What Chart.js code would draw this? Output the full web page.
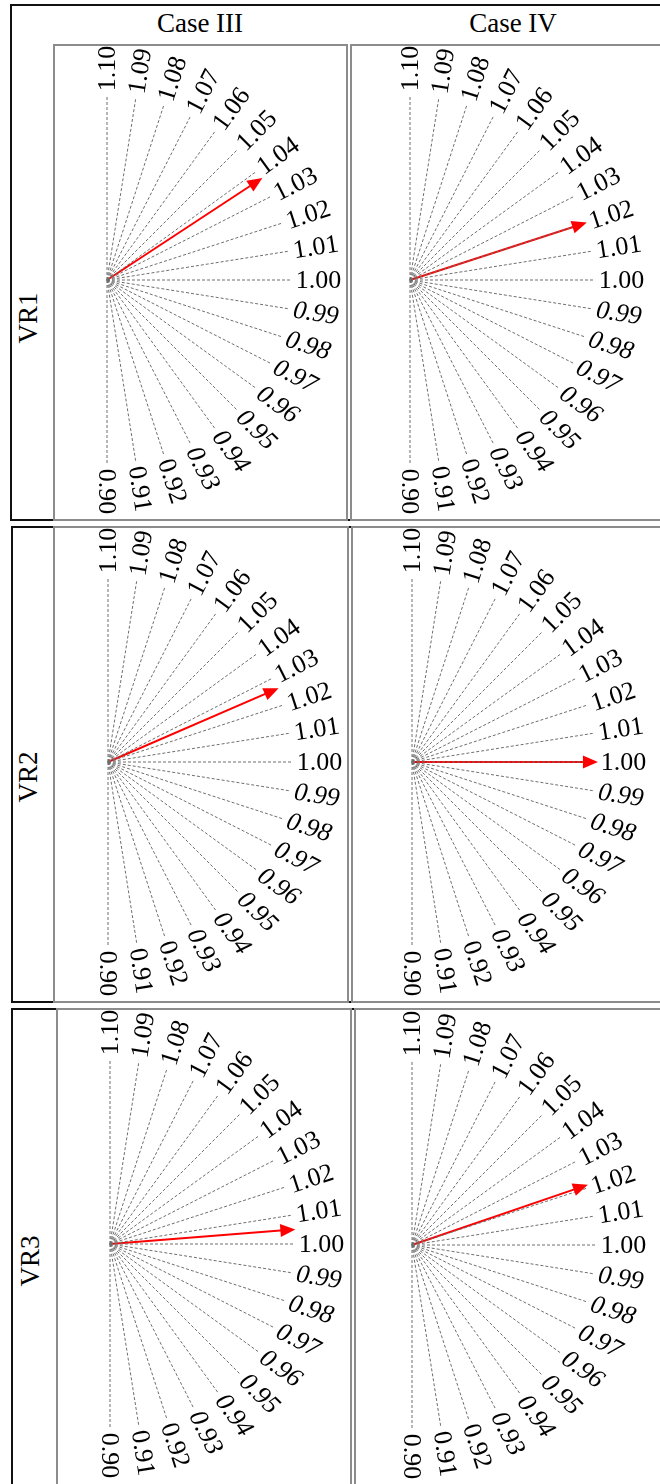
<!DOCTYPE html>
<html>
<head>
<meta charset="utf-8">
<script src="https://cdn.jsdelivr.net/npm/chart.js@4"></script>
<style>
  html, body { margin: 0; padding: 0; background: #fff; }
  body { width: 660px; height: 1484px; position: relative; overflow: hidden; font-family: "Liberation Serif", "DejaVu Serif", serif; }
  .outer { position: absolute; border: 2px solid #111; box-sizing: border-box; }
  .cell { position: absolute; border: 2px solid #8c8c8c; box-sizing: border-box; }
  .hdr { position: absolute; font-size: 27px; color: #000; white-space: nowrap; transform: translateX(-50%); }
  .vr { position: absolute; font-size: 27px; color: #000; white-space: nowrap; transform: translate(-50%, -50%) rotate(-90deg); }
  canvas { position: absolute; }
</style>
</head>
<body>
<script>
// ---- data ----
const tickValues = [0.90, 0.91, 0.92, 0.93, 0.94, 0.95, 0.96, 0.97, 0.98, 0.99, 1.00,
                    1.01, 1.02, 1.03, 1.04, 1.05, 1.06, 1.07, 1.08, 1.09, 1.10];
const tickLabels = ['0.90', '0.91', '0.92', '0.93', '0.94', '0.95', '0.96', '0.97', '0.98', '0.99', '1.00',
                    '1.01', '1.02', '1.03', '1.04', '1.05', '1.06', '1.07', '1.08', '1.09', '1.10'];
const caseNames = ['Case III', 'Case IV'];
const rowNames = ['VR1', 'VR2', 'VR3'];
const caseIIIValues = [1.037, 1.026, 1.005];
const caseIVValues = [1.020, 1.000, 1.021];
const gaugeMin = 0.90, gaugeMid = 1.00, gaugeMax = 1.10;

// ---- layout ----
const body = document.body;
function addDiv(cls, style, text) {
  const d = document.createElement('div');
  d.className = cls;
  Object.assign(d.style, style);
  if (text) d.textContent = text;
  body.appendChild(d);
  return d;
}
const rowBoxes = [
  { top: 4, bottom: 521, left: 10, colX: 53, split: 348, cellTop: 44 },
  { top: 526, bottom: 1003, left: 11, colX: 53, split: 349, cellTop: 526 },
  { top: 1008, bottom: 1492, left: 11, colX: 56, split: 352, cellTop: 1008 }
];
const centers = [
  [[107, 280], [410, 280]],
  [[108, 762], [412, 762]],
  [[110, 1244], [412, 1245]]
];
const vrCenters = [[28, 318], [28, 777], [30, 1261]];

rowBoxes.forEach((r, i) => {
  addDiv('outer', { left: r.left + 'px', top: r.top + 'px', width: (670 - r.left) + 'px', height: (r.bottom - r.top) + 'px' });
  addDiv('cell', { left: r.colX + 'px', top: r.cellTop + 'px', width: (r.split - r.colX) + 'px', height: (r.bottom - r.cellTop) + 'px' });
  addDiv('cell', { left: (r.split + 2) + 'px', top: r.cellTop + 'px', width: (670 - r.split) + 'px', height: (r.bottom - r.cellTop) + 'px' });
  addDiv('vr', { left: vrCenters[i][0] + 'px', top: vrCenters[i][1] + 'px' }, rowNames[i]);
});
addDiv('hdr', { left: '200px', top: '8px' }, caseNames[0]);
addDiv('hdr', { left: '513px', top: '8px' }, caseNames[1]);

// ---- gauge charts ----
const R = 185;             // pixels per unit radius
const CW = 290, CH = 474;  // canvas size
const OX = 52, OY = 234;   // center offset inside canvas

function angleOf(v) { return (v - gaugeMid) / (gaugeMax - gaugeMid) * Math.PI / 2; }

const gaugePlugin = {
  id: 'gauge',
  afterDatasetsDraw(chart) {
    const ctx = chart.ctx;
    const xs = chart.scales.x, ys = chart.scales.y;
    const cx = xs.getPixelForValue(0), cy = ys.getPixelForValue(0);
    // labels
    tickValues.forEach((v, i) => {
      const a = angleOf(v);
      const px = xs.getPixelForValue(Math.cos(a) * 1.02);
      const py = ys.getPixelForValue(Math.sin(a) * 1.02);
      ctx.save();
      ctx.translate(px, py);
      ctx.rotate(-a);
      const it = (v < 0.995 && v > 0.925);
      ctx.font = (it ? 'italic ' : '') + '26px "Liberation Serif"';
      ctx.fillStyle = '#000';
      ctx.textAlign = 'left';
      ctx.textBaseline = 'middle';
      ctx.fillText(tickLabels[i], 0, 1);
      ctx.restore();
    });
    // arrow head
    const val = chart.options.plugins.gauge.value;
    const a = angleOf(val);
    const tx = xs.getPixelForValue(Math.cos(a) * 1.005);
    const ty = ys.getPixelForValue(Math.sin(a) * 1.005);
    const dx = tx - cx, dy = ty - cy, len = Math.hypot(dx, dy);
    const ux = dx / len, uy = dy / len;
    const hl = 15, hw = 6.5;
    const bx = tx - ux * hl, by = ty - uy * hl;
    ctx.save();
    ctx.fillStyle = '#ff0000';
    ctx.beginPath();
    ctx.moveTo(tx, ty);
    ctx.lineTo(bx - uy * hw, by + ux * hw);
    ctx.lineTo(bx + uy * hw, by - ux * hw);
    ctx.closePath();
    ctx.fill();
    ctx.restore();
  }
};

function makeGauge(cx, cy, value) {
  const c = document.createElement('canvas');
  c.width = CW; c.height = CH;
  c.style.left = (cx - OX) + 'px';
  c.style.top = (cy - OY) + 'px';
  c.style.width = CW + 'px';
  c.style.height = CH + 'px';
  body.appendChild(c);
  const datasets = tickValues.map(v => {
    const a = angleOf(v);
    return {
      data: [{ x: 0, y: 0 }, { x: Math.cos(a), y: Math.sin(a) }],
      showLine: true, borderColor: '#6e6e6e', borderWidth: 1, borderDash: [3, 2],
      pointRadius: 0, clip: false
    };
  });
  const av = angleOf(value);
  datasets.push({
    data: [{ x: 0, y: 0 }, { x: Math.cos(av) * 0.94, y: Math.sin(av) * 0.94 }],
    showLine: true, borderColor: '#ff0000', borderWidth: 2, pointRadius: 0, clip: false
  });
  new Chart(c, {
    type: 'scatter',
    data: { datasets },
    options: {
      responsive: false, animation: false, events: [],
      layout: { padding: 0 },
      scales: {
        x: { type: 'linear', display: false, min: -OX / R, max: (CW - OX) / R },
        y: { type: 'linear', display: false, min: -(CH - OY) / R, max: OY / R }
      },
      plugins: { legend: { display: false }, tooltip: { enabled: false }, gauge: { value } }
    },
    plugins: [gaugePlugin]
  });
}

for (let r = 0; r < 3; r++) {
  makeGauge(centers[r][0][0], centers[r][0][1], caseIIIValues[r]);
  makeGauge(centers[r][1][0], centers[r][1][1], caseIVValues[r]);
}
</script>
</body>
</html>
